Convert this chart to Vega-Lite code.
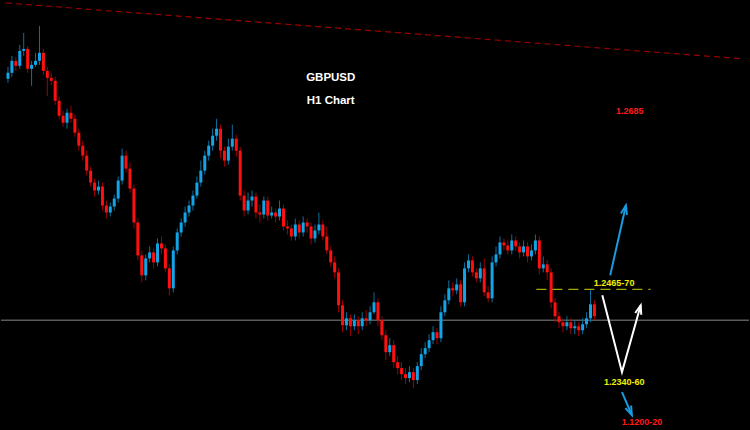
{
  "$schema": "https://vega.github.io/schema/vega-lite/v6.json",
  "width": 750,
  "height": 430,
  "autosize": {"type": "fit", "contains": "padding"},
  "padding": 0,
  "background": "#000000",
  "config": {"view": {"stroke": null}},
  "datasets": {
    "candles": [
      {"t":0,"o":1.2894,"h":1.2918,"l":1.2886,"c":1.2906},
      {"t":1,"o":1.2906,"h":1.2940,"l":1.2898,"c":1.2930},
      {"t":2,"o":1.2930,"h":1.2938,"l":1.2910,"c":1.2920},
      {"t":3,"o":1.2920,"h":1.2962,"l":1.2914,"c":1.2950},
      {"t":4,"o":1.2950,"h":1.2986,"l":1.2940,"c":1.2954},
      {"t":5,"o":1.2954,"h":1.2960,"l":1.2906,"c":1.2914},
      {"t":6,"o":1.2914,"h":1.2930,"l":1.2880,"c":1.2922},
      {"t":7,"o":1.2922,"h":1.2946,"l":1.2918,"c":1.2930},
      {"t":8,"o":1.2930,"h":1.3000,"l":1.2922,"c":1.2946},
      {"t":9,"o":1.2946,"h":1.2954,"l":1.2902,"c":1.2910},
      {"t":10,"o":1.2910,"h":1.2918,"l":1.2860,"c":1.2896},
      {"t":11,"o":1.2896,"h":1.2906,"l":1.2882,"c":1.2890},
      {"t":12,"o":1.2890,"h":1.2898,"l":1.2842,"c":1.2850},
      {"t":13,"o":1.2850,"h":1.2858,"l":1.2814,"c":1.2820},
      {"t":14,"o":1.2820,"h":1.2830,"l":1.2798,"c":1.2806},
      {"t":15,"o":1.2806,"h":1.2834,"l":1.2794,"c":1.2826},
      {"t":16,"o":1.2826,"h":1.2840,"l":1.2806,"c":1.2814},
      {"t":17,"o":1.2814,"h":1.2822,"l":1.2778,"c":1.2786},
      {"t":18,"o":1.2786,"h":1.2794,"l":1.2750,"c":1.2760},
      {"t":19,"o":1.2760,"h":1.2770,"l":1.2730,"c":1.2740},
      {"t":20,"o":1.2740,"h":1.2750,"l":1.2700,"c":1.2710},
      {"t":21,"o":1.2710,"h":1.2718,"l":1.2678,"c":1.2686},
      {"t":22,"o":1.2686,"h":1.2694,"l":1.2658,"c":1.2670},
      {"t":23,"o":1.2670,"h":1.2690,"l":1.2662,"c":1.2678},
      {"t":24,"o":1.2678,"h":1.2686,"l":1.2630,"c":1.2640},
      {"t":25,"o":1.2640,"h":1.2650,"l":1.2614,"c":1.2626},
      {"t":26,"o":1.2626,"h":1.2646,"l":1.2618,"c":1.2638},
      {"t":27,"o":1.2638,"h":1.2662,"l":1.2630,"c":1.2654},
      {"t":28,"o":1.2654,"h":1.2698,"l":1.2646,"c":1.2690},
      {"t":29,"o":1.2690,"h":1.2754,"l":1.2682,"c":1.2740},
      {"t":30,"o":1.2740,"h":1.2750,"l":1.2706,"c":1.2714},
      {"t":31,"o":1.2714,"h":1.2726,"l":1.2666,"c":1.2674},
      {"t":32,"o":1.2674,"h":1.2682,"l":1.2594,"c":1.2606},
      {"t":33,"o":1.2606,"h":1.2614,"l":1.2530,"c":1.2540},
      {"t":34,"o":1.2540,"h":1.2550,"l":1.2486,"c":1.2500},
      {"t":35,"o":1.2500,"h":1.2542,"l":1.2490,"c":1.2534},
      {"t":36,"o":1.2534,"h":1.2558,"l":1.2526,"c":1.2546},
      {"t":37,"o":1.2546,"h":1.2554,"l":1.2514,"c":1.2526},
      {"t":38,"o":1.2526,"h":1.2574,"l":1.2518,"c":1.2564},
      {"t":39,"o":1.2564,"h":1.2578,"l":1.2542,"c":1.2554},
      {"t":40,"o":1.2554,"h":1.2562,"l":1.2506,"c":1.2514},
      {"t":41,"o":1.2514,"h":1.2522,"l":1.2460,"c":1.2474},
      {"t":42,"o":1.2474,"h":1.2558,"l":1.2466,"c":1.2550},
      {"t":43,"o":1.2550,"h":1.2594,"l":1.2542,"c":1.2586},
      {"t":44,"o":1.2586,"h":1.2614,"l":1.2578,"c":1.2606},
      {"t":45,"o":1.2606,"h":1.2638,"l":1.2598,"c":1.2626},
      {"t":46,"o":1.2626,"h":1.2650,"l":1.2618,"c":1.2640},
      {"t":47,"o":1.2640,"h":1.2670,"l":1.2630,"c":1.2660},
      {"t":48,"o":1.2660,"h":1.2698,"l":1.2654,"c":1.2686},
      {"t":49,"o":1.2686,"h":1.2730,"l":1.2678,"c":1.2710},
      {"t":50,"o":1.2710,"h":1.2750,"l":1.2702,"c":1.2740},
      {"t":51,"o":1.2740,"h":1.2770,"l":1.2730,"c":1.2760},
      {"t":52,"o":1.2760,"h":1.2794,"l":1.2750,"c":1.2780},
      {"t":53,"o":1.2780,"h":1.2814,"l":1.2770,"c":1.2794},
      {"t":54,"o":1.2794,"h":1.2802,"l":1.2734,"c":1.2750},
      {"t":55,"o":1.2750,"h":1.2758,"l":1.2718,"c":1.2730},
      {"t":56,"o":1.2730,"h":1.2774,"l":1.2722,"c":1.2758},
      {"t":57,"o":1.2758,"h":1.2802,"l":1.2750,"c":1.2774},
      {"t":58,"o":1.2774,"h":1.2782,"l":1.2738,"c":1.2750},
      {"t":59,"o":1.2750,"h":1.2758,"l":1.2650,"c":1.2660},
      {"t":60,"o":1.2660,"h":1.2670,"l":1.2618,"c":1.2630},
      {"t":61,"o":1.2630,"h":1.2666,"l":1.2622,"c":1.2650},
      {"t":62,"o":1.2650,"h":1.2670,"l":1.2638,"c":1.2658},
      {"t":63,"o":1.2658,"h":1.2666,"l":1.2614,"c":1.2626},
      {"t":64,"o":1.2626,"h":1.2642,"l":1.2606,"c":1.2622},
      {"t":65,"o":1.2622,"h":1.2658,"l":1.2614,"c":1.2650},
      {"t":66,"o":1.2650,"h":1.2658,"l":1.2610,"c":1.2620},
      {"t":67,"o":1.2620,"h":1.2638,"l":1.2614,"c":1.2626},
      {"t":68,"o":1.2626,"h":1.2634,"l":1.2606,"c":1.2618},
      {"t":69,"o":1.2618,"h":1.2650,"l":1.2610,"c":1.2634},
      {"t":70,"o":1.2634,"h":1.2642,"l":1.2590,"c":1.2598},
      {"t":71,"o":1.2598,"h":1.2610,"l":1.2582,"c":1.2594},
      {"t":72,"o":1.2594,"h":1.2602,"l":1.2570,"c":1.2578},
      {"t":73,"o":1.2578,"h":1.2614,"l":1.2570,"c":1.2602},
      {"t":74,"o":1.2602,"h":1.2610,"l":1.2574,"c":1.2586},
      {"t":75,"o":1.2586,"h":1.2618,"l":1.2578,"c":1.2606},
      {"t":76,"o":1.2606,"h":1.2614,"l":1.2586,"c":1.2598},
      {"t":77,"o":1.2598,"h":1.2606,"l":1.2562,"c":1.2574},
      {"t":78,"o":1.2574,"h":1.2602,"l":1.2566,"c":1.2590},
      {"t":79,"o":1.2590,"h":1.2626,"l":1.2582,"c":1.2602},
      {"t":80,"o":1.2602,"h":1.2610,"l":1.2570,"c":1.2578},
      {"t":81,"o":1.2578,"h":1.2598,"l":1.2542,"c":1.2550},
      {"t":82,"o":1.2550,"h":1.2558,"l":1.2518,"c":1.2526},
      {"t":83,"o":1.2526,"h":1.2538,"l":1.2494,"c":1.2506},
      {"t":84,"o":1.2506,"h":1.2514,"l":1.2426,"c":1.2440},
      {"t":85,"o":1.2440,"h":1.2450,"l":1.2386,"c":1.2400},
      {"t":86,"o":1.2400,"h":1.2426,"l":1.2390,"c":1.2414},
      {"t":87,"o":1.2414,"h":1.2422,"l":1.2378,"c":1.2398},
      {"t":88,"o":1.2398,"h":1.2422,"l":1.2390,"c":1.2410},
      {"t":89,"o":1.2410,"h":1.2418,"l":1.2382,"c":1.2398},
      {"t":90,"o":1.2398,"h":1.2426,"l":1.2390,"c":1.2414},
      {"t":91,"o":1.2414,"h":1.2430,"l":1.2398,"c":1.2410},
      {"t":92,"o":1.2410,"h":1.2438,"l":1.2402,"c":1.2426},
      {"t":93,"o":1.2426,"h":1.2466,"l":1.2422,"c":1.2446},
      {"t":94,"o":1.2446,"h":1.2454,"l":1.2398,"c":1.2410},
      {"t":95,"o":1.2410,"h":1.2418,"l":1.2370,"c":1.2380},
      {"t":96,"o":1.2380,"h":1.2390,"l":1.2330,"c":1.2346},
      {"t":97,"o":1.2346,"h":1.2374,"l":1.2338,"c":1.2360},
      {"t":98,"o":1.2360,"h":1.2370,"l":1.2314,"c":1.2326},
      {"t":99,"o":1.2326,"h":1.2338,"l":1.2302,"c":1.2314},
      {"t":100,"o":1.2314,"h":1.2326,"l":1.2290,"c":1.2302},
      {"t":101,"o":1.2302,"h":1.2314,"l":1.2282,"c":1.2294},
      {"t":102,"o":1.2294,"h":1.2318,"l":1.2286,"c":1.2306},
      {"t":103,"o":1.2306,"h":1.2314,"l":1.2274,"c":1.2290},
      {"t":104,"o":1.2290,"h":1.2326,"l":1.2282,"c":1.2318},
      {"t":105,"o":1.2318,"h":1.2354,"l":1.2310,"c":1.2342},
      {"t":106,"o":1.2342,"h":1.2366,"l":1.2334,"c":1.2354},
      {"t":107,"o":1.2354,"h":1.2382,"l":1.2346,"c":1.2370},
      {"t":108,"o":1.2370,"h":1.2398,"l":1.2362,"c":1.2386},
      {"t":109,"o":1.2386,"h":1.2394,"l":1.2362,"c":1.2374},
      {"t":110,"o":1.2374,"h":1.2438,"l":1.2366,"c":1.2426},
      {"t":111,"o":1.2426,"h":1.2462,"l":1.2418,"c":1.2450},
      {"t":112,"o":1.2450,"h":1.2490,"l":1.2442,"c":1.2474},
      {"t":113,"o":1.2474,"h":1.2486,"l":1.2458,"c":1.2470},
      {"t":114,"o":1.2470,"h":1.2494,"l":1.2462,"c":1.2482},
      {"t":115,"o":1.2482,"h":1.2490,"l":1.2438,"c":1.2446},
      {"t":116,"o":1.2446,"h":1.2526,"l":1.2438,"c":1.2514},
      {"t":117,"o":1.2514,"h":1.2542,"l":1.2506,"c":1.2530},
      {"t":118,"o":1.2530,"h":1.2538,"l":1.2498,"c":1.2506},
      {"t":119,"o":1.2506,"h":1.2514,"l":1.2486,"c":1.2494},
      {"t":120,"o":1.2494,"h":1.2526,"l":1.2486,"c":1.2514},
      {"t":121,"o":1.2514,"h":1.2534,"l":1.2458,"c":1.2466},
      {"t":122,"o":1.2466,"h":1.2478,"l":1.2446,"c":1.2454},
      {"t":123,"o":1.2454,"h":1.2538,"l":1.2446,"c":1.2526},
      {"t":124,"o":1.2526,"h":1.2558,"l":1.2518,"c":1.2542},
      {"t":125,"o":1.2542,"h":1.2578,"l":1.2534,"c":1.2566},
      {"t":126,"o":1.2566,"h":1.2574,"l":1.2550,"c":1.2560},
      {"t":127,"o":1.2560,"h":1.2570,"l":1.2542,"c":1.2550},
      {"t":128,"o":1.2550,"h":1.2582,"l":1.2542,"c":1.2570},
      {"t":129,"o":1.2570,"h":1.2578,"l":1.2550,"c":1.2558},
      {"t":130,"o":1.2558,"h":1.2566,"l":1.2534,"c":1.2546},
      {"t":131,"o":1.2546,"h":1.2570,"l":1.2538,"c":1.2558},
      {"t":132,"o":1.2558,"h":1.2566,"l":1.2526,"c":1.2538},
      {"t":133,"o":1.2538,"h":1.2562,"l":1.2530,"c":1.2550},
      {"t":134,"o":1.2550,"h":1.2582,"l":1.2542,"c":1.2570},
      {"t":135,"o":1.2570,"h":1.2578,"l":1.2502,"c":1.2514},
      {"t":136,"o":1.2514,"h":1.2538,"l":1.2506,"c":1.2522},
      {"t":137,"o":1.2522,"h":1.2530,"l":1.2490,"c":1.2506},
      {"t":138,"o":1.2506,"h":1.2514,"l":1.2434,"c":1.2446},
      {"t":139,"o":1.2446,"h":1.2454,"l":1.2406,"c":1.2418},
      {"t":140,"o":1.2418,"h":1.2426,"l":1.2394,"c":1.2406},
      {"t":141,"o":1.2406,"h":1.2414,"l":1.2386,"c":1.2398},
      {"t":142,"o":1.2398,"h":1.2418,"l":1.2390,"c":1.2406},
      {"t":143,"o":1.2406,"h":1.2414,"l":1.2382,"c":1.2394},
      {"t":144,"o":1.2394,"h":1.2410,"l":1.2382,"c":1.2398},
      {"t":145,"o":1.2398,"h":1.2406,"l":1.2378,"c":1.2390},
      {"t":146,"o":1.2390,"h":1.2414,"l":1.2382,"c":1.2402},
      {"t":147,"o":1.2402,"h":1.2426,"l":1.2394,"c":1.2414},
      {"t":148,"o":1.2414,"h":1.2472,"l":1.2406,"c":1.2442},
      {"t":149,"o":1.2442,"h":1.2450,"l":1.2410,"c":1.2418}
    ]
  },
  "encoding": {
    "x": {"field": "t", "type": "quantitative", "axis": null, "scale": {"domain": [-0.5, 187], "nice": false, "zero": false}},
    "y": {"type": "quantitative", "axis": null, "scale": {"domain": [1.219, 1.305], "nice": false, "zero": false}}
  },
  "layer": [
    {
      "data": {"values": [{"t": -0.5, "p": 1.3046}, {"t": 187, "p": 1.2934}]},
      "mark": {"type": "line", "color": "#9a0000", "strokeWidth": 1.2, "strokeDash": [6, 4]},
      "encoding": {"y": {"field": "p", "type": "quantitative"}}
    },
    {
      "data": {"values": [{"p": 1.2410}]},
      "mark": {"type": "rule", "color": "#5a5a5a", "strokeWidth": 1.5},
      "encoding": {"x": null, "y": {"field": "p", "type": "quantitative"}}
    },
    {
      "data": {"name": "candles"},
      "mark": {"type": "rule", "strokeWidth": 1},
      "encoding": {
        "y": {"field": "l", "type": "quantitative"},
        "y2": {"field": "h"},
        "color": {"condition": {"test": "datum.c > datum.o", "value": "#0b6f9f"}, "value": "#a00000"}
      }
    },
    {
      "data": {"name": "candles"},
      "mark": {"type": "bar", "size": 3},
      "encoding": {
        "y": {"field": "o", "type": "quantitative"},
        "y2": {"field": "c"},
        "color": {"condition": {"test": "datum.c > datum.o", "value": "#12a4e6"}, "value": "#ff1010"}
      }
    },
    {
      "data": {"values": [{"t": 134.25, "p": 1.2472}, {"t": 163.25, "p": 1.2472}]},
      "mark": {"type": "line", "color": "#a8a800", "strokeWidth": 1.2, "strokeDash": [10, 6]},
      "encoding": {"y": {"field": "p", "type": "quantitative"}}
    },
    {
      "data": {"values": [{"t": 153, "p": 1.2500}, {"t": 157, "p": 1.2640}]},
      "mark": {"type": "line", "color": "#1a9be0", "strokeWidth": 2},
      "encoding": {"y": {"field": "p", "type": "quantitative"}}
    },
    {
      "data": {"values": [{"t": 156, "p": 1.2266}, {"t": 158.5, "p": 1.2220}]},
      "mark": {"type": "line", "color": "#1a9be0", "strokeWidth": 2},
      "encoding": {"y": {"field": "p", "type": "quantitative"}}
    },
    {
      "data": {"values": [{"t": 151, "p": 1.2460, "k": 0}, {"t": 156, "p": 1.2306, "k": 1}, {"t": 160.75, "p": 1.2440, "k": 2}]},
      "mark": {"type": "line", "color": "#ffffff", "strokeWidth": 2},
      "encoding": {"y": {"field": "p", "type": "quantitative"}, "order": {"field": "k"}}
    },
    {
      "data": {"values": [
        {"t": 157, "p": 1.2640, "a": 13, "col": "blue"},
        {"t": 158.5, "p": 1.2220, "a": 156, "col": "blue"},
        {"t": 160.75, "p": 1.2440, "a": 16, "col": "white"}
      ]},
      "mark": {"type": "point", "shape": "M-0.6,1.7L0,0L0.6,1.7", "filled": false, "strokeWidth": 2, "size": 110, "opacity": 1},
      "encoding": {
        "y": {"field": "p", "type": "quantitative"},
        "angle": {"field": "a", "type": "quantitative", "scale": null},
        "color": {"field": "col", "type": "nominal", "scale": {"domain": ["blue", "white"], "range": ["#1a9be0", "#ffffff"]}, "legend": null}
      }
    },
    {
      "data": {"values": [
        {"t": 82, "p": 1.2896, "txt": "GBPUSD"},
        {"t": 82, "p": 1.2850, "txt": "H1 Chart"}
      ]},
      "mark": {"type": "text", "font": "Liberation Sans", "fontWeight": "bold", "fontSize": 11.5, "align": "center", "baseline": "middle", "color": "#ffffff"},
      "encoding": {"y": {"field": "p", "type": "quantitative"}, "text": {"field": "txt"}}
    },
    {
      "data": {"values": [
        {"t": 158, "p": 1.2830, "txt": "1.2685", "col": "red"},
        {"t": 154, "p": 1.2485, "txt": "1.2465-70", "col": "yellow"},
        {"t": 156.6, "p": 1.2286, "txt": "1.2340-60", "col": "yellow"},
        {"t": 161.1, "p": 1.2206, "txt": "1.1200-20", "col": "red"}
      ]},
      "mark": {"type": "text", "font": "Liberation Sans", "fontWeight": "bold", "fontSize": 9, "align": "center", "baseline": "middle"},
      "encoding": {
        "y": {"field": "p", "type": "quantitative"},
        "text": {"field": "txt"},
        "color": {"field": "col", "type": "nominal", "scale": {"domain": ["red", "yellow"], "range": ["#ff1a1a", "#f0f000"]}, "legend": null}
      }
    }
  ],
  "resolve": {"scale": {"color": "independent"}}
}
